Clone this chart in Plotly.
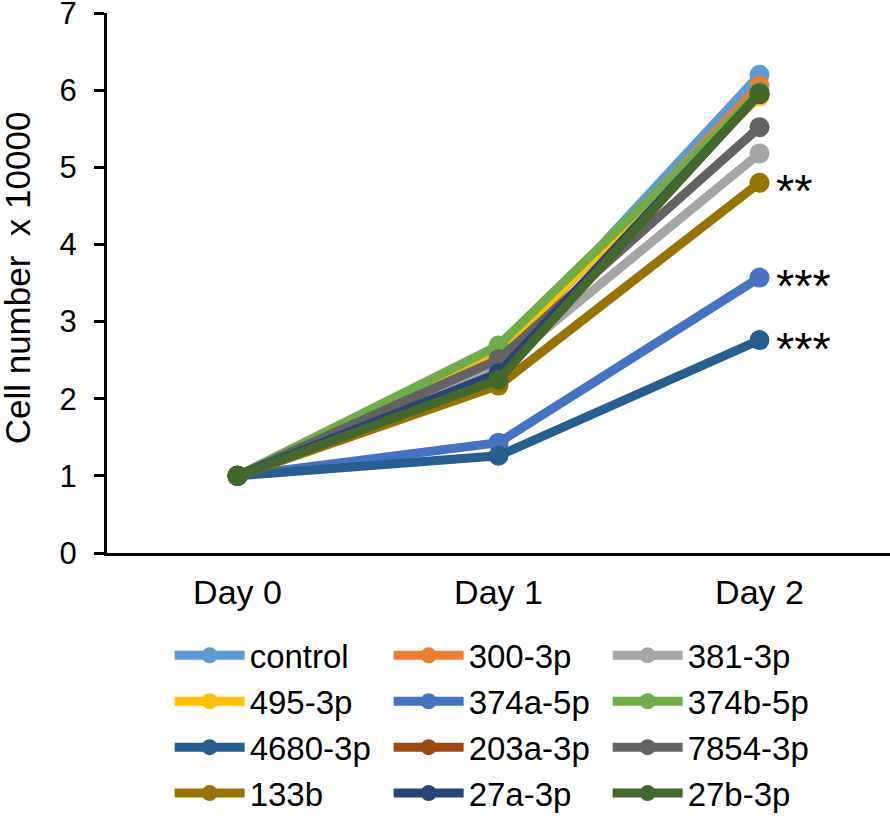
import plotly.graph_objects as go

days = ["Day 0", "Day 1", "Day 2"]
names = ["control", "300-3p", "381-3p", "495-3p", "374a-5p", "374b-5p",
         "4680-3p", "203a-3p", "7854-3p", "133b", "27a-3p", "27b-3p"]
colors = ["#5B9BD5", "#ED7D31", "#A5A5A5", "#FFC000", "#4472C4", "#70AD47",
          "#255E91", "#9E480E", "#636363", "#997300", "#264478", "#43682B"]
day0 = [1.0] * 12
day1 = [2.55, 2.55, 2.40, 2.62, 1.43, 2.69, 1.26, 2.30, 2.51, 2.17, 2.33, 2.25]
day2 = [6.20, 6.06, 5.18, 5.92, 3.57, 5.98, 2.76, 5.95, 5.52, 4.80, 5.95, 5.96]
sig_names = ["133b", "374a-5p", "4680-3p"]
sig_labels = ["**", "***", "***"]
y_ticks = [0, 1, 2, 3, 4, 5, 6, 7]
y_title = "Cell number  x 10000"

FONT = "Liberation Sans, Arial, Helvetica, sans-serif"

fig = go.Figure()
for i, n in enumerate(names):
    fig.add_trace(go.Scatter(
        x=days, y=[day0[i], day1[i], day2[i]], name=n, mode="lines+markers",
        line=dict(color=colors[i], width=9),
        marker=dict(color=colors[i], size=20),
    ))

for n, lab in zip(sig_names, sig_labels):
    k = names.index(n)
    fig.add_annotation(x=days[2], y=day2[k], text=lab, showarrow=False,
                       xanchor="left", yanchor="middle", xshift=14, yshift=-8,
                       font=dict(family=FONT, size=47, color="black"))

# y-axis title as a rotated annotation (positioned like the reference)
fig.add_annotation(xref="paper", yref="paper", x=-0.114, y=0.51, text=y_title,
                   textangle=-90, showarrow=False, xanchor="center", yanchor="middle",
                   font=dict(family=FONT, size=35, color="black"))

fig.update_layout(
    width=890, height=818,
    margin=dict(l=107, r=0, t=13, b=265, autoexpand=False),
    plot_bgcolor="white", paper_bgcolor="white",
    font=dict(family=FONT, size=32, color="black"),
    showlegend=True,
    legend=dict(orientation="h", x=0.080, xanchor="left",
                yref="container", y=0.233, yanchor="top",
                entrywidth=134, entrywidthmode="pixels", itemwidth=70,
                font=dict(family=FONT, size=33), tracegroupgap=0, itemclick=False),
    xaxis=dict(type="category", range=[-0.5, 2.5], showline=True, linecolor="black",
               linewidth=3, ticks="", showgrid=False, zeroline=False, automargin=False,
               ticklabelstandoff=7, tickfont=dict(size=34)),
    yaxis=dict(range=[0, 7], tickvals=y_ticks, showline=True, linecolor="black",
               linewidth=3, ticks="outside", ticklen=10, tickwidth=3, tickcolor="black",
               showgrid=False, zeroline=False, ticklabelstandoff=11, automargin=False,
               ticklabeloverflow="allow", tickfont=dict(size=31)),
)

fig.write_html("out.html", config={"displayModeBar": False},
               post_script="document.body.style.margin='0';")
